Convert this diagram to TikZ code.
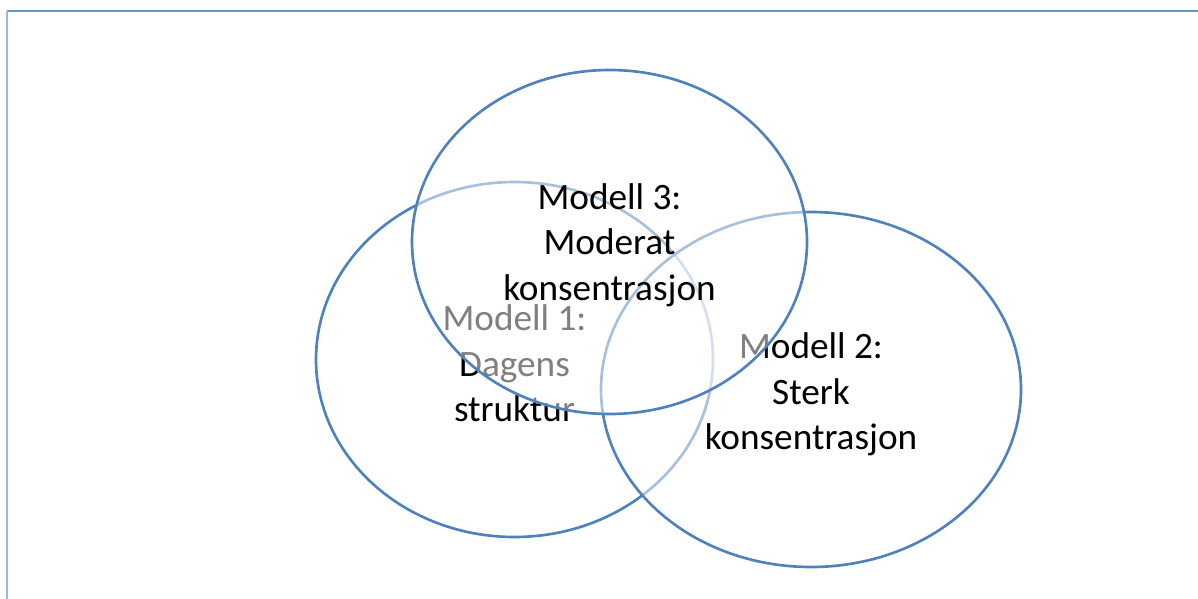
\documentclass[tikz,border=0pt]{standalone}
\usepackage{fontspec}
\setmainfont{Carlito}
\usetikzlibrary{shapes.geometric}

\definecolor{vennblue}{RGB}{79,129,189}
\definecolor{framedark}{RGB}{100,150,205}
\definecolor{framelight}{RGB}{145,190,232}

\begin{document}
\begin{tikzpicture}[
    set/.style={ellipse, draw=vennblue, line width=1.5pt, fill=white,
        fill opacity=0.5, draw opacity=1, inner sep=0pt},
    setlabel/.style={align=center, font=\fontsize{21.2}{26}\selectfont},
    frameline/.style={line width=0.9pt}
]
\useasboundingbox (0,0) rectangle (23.96,-11.98);

% Frame
\coordinate (TL) at (0.14,-0.22);
\coordinate (TR) at (23.96,-0.22);
\coordinate (BL) at (0.14,-11.98);
\draw[frameline, framedark] (TL) -- (TR);
\draw[frameline, framelight] (TL) -- (BL);

% Sets (drawn in order, each washes the ones below)
\node[set, minimum width=7.94cm, minimum height=7.10cm] (M1) at (10.29,-7.19) {};
\node[setlabel] (L1) at (10.29,-7.27) {Modell 1:\\Dagens\\struktur};

\node[set, minimum width=8.40cm, minimum height=7.10cm] (M2) at (16.22,-7.79) {};
\node[setlabel] (L2) at (16.22,-7.89) {Modell 2:\\Sterk\\konsentrasjon};

\node[set, minimum width=7.90cm, minimum height=6.88cm] (M3) at (12.19,-4.84) {};
\node[setlabel] (L3) at (12.19,-4.90) {Modell 3:\\Moderat\\konsentrasjon};
\end{tikzpicture}
\end{document}
